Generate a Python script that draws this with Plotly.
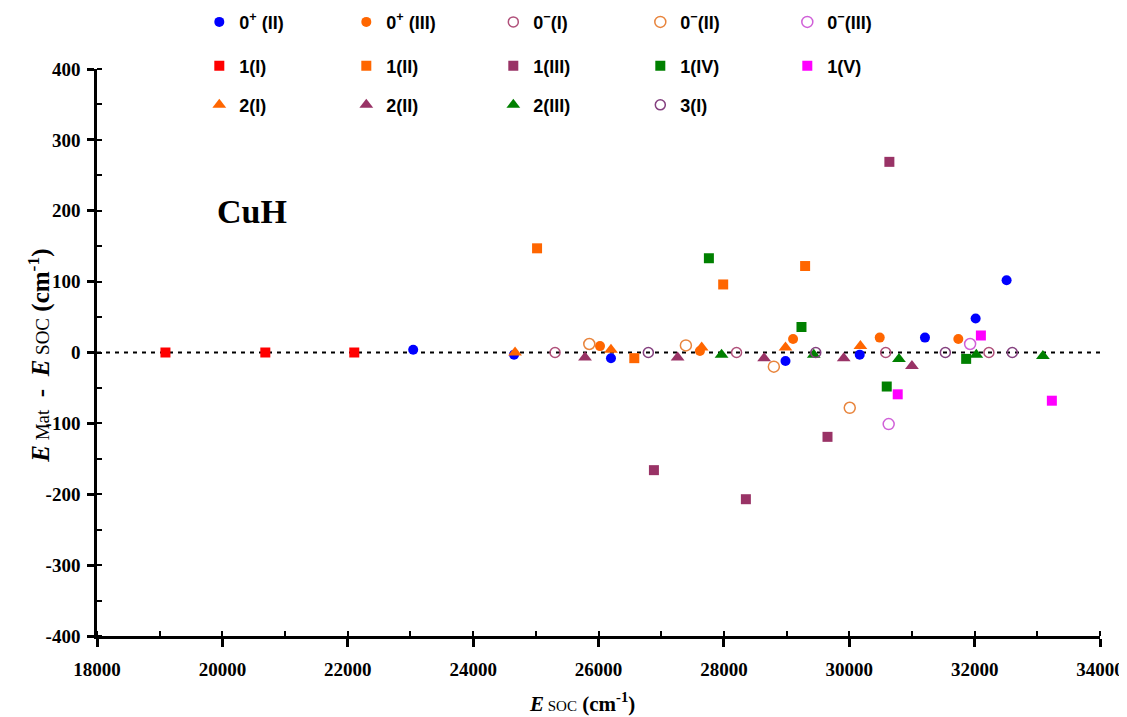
import plotly.graph_objects as go

# ---------------- data ----------------
x_0p_II = [23044, 24653, 26199, 28983, 30167, 31208, 32016, 32510]
y_0p_II = [4, -3, -8, -12, -3, 21, 48, 102]
x_0p_III = [26024, 27618, 29104, 30486, 31740]
y_0p_III = [9, 2, 19, 21, 19]
x_0m_I = [25307, 28202, 30582, 32228]
y_0m_I = [0, 0, 0, 0]
x_0m_II = [25853, 27394, 28797, 30008]
y_0m_II = [12, 10, -20, -78]
x_0m_III = [30629, 31928]
y_0m_III = [-101, 12]
x_1_I = [19092, 20685, 22104]
y_1_I = [0, 0, 0]
x_1_II = [25020, 26571, 27989, 29296]
y_1_II = [147, -8, 96, 122]
x_1_III = [26884, 28351, 29653, 30640]
y_1_III = [-166, -207, -119, 269]
x_1_IV = [27761, 29238, 30598, 31865]
y_1_IV = [133, 36, -48, -9]
x_1_V = [30773, 32100, 33232]
y_1_V = [-59, 24, -68]
x_2_I = [24669, 26199, 27646, 28983, 30178]
y_2_I = [0, 4, 7, 7, 9]
x_2_II = [25785, 27262, 28642, 29912, 31000]
y_2_II = [-7, -7, -8, -8, -19]
x_2_III = [27963, 29434, 30793, 32027, 33089]
y_2_III = [-3, -3, -9, -3, -5]
x_3_I = [26795, 29466, 31533, 32601]
y_3_I = [0, 0, 0, 0]

x_tickvals = [18000, 20000, 22000, 24000, 26000, 28000, 30000, 32000, 34000]
x_ticktext = ["18000", "20000", "22000", "24000", "26000", "28000", "30000", "32000", "34000"]
y_tickvals = [400, 300, 200, 100, 0, -100, -200, -300, -400]
y_ticktext = ["400", "300", "200", "100", "0", "-100", "-200", "-300", "-400"]

# ---------------- styles ----------------
BLUE = "#0000FF"
ORANGE = "#FF6600"
PLUM = "#993366"
GREEN = "#008000"
MAGENTA = "#FF00FF"
RED = "#FF0000"

series = [
    # name, x, y, symbol, size, color, open?, legend
    ("0<sup>+</sup> (II)", x_0p_II, y_0p_II, "circle", 10, BLUE, False, "legend"),
    ("0<sup>+</sup> (III)", x_0p_III, y_0p_III, "circle", 10, ORANGE, False, "legend"),
    ("0<sup>\u2212</sup>(I)", x_0m_I, y_0m_I, "circle-open", 10, "#B0507A", True, "legend"),
    ("0<sup>\u2212</sup>(II)", x_0m_II, y_0m_II, "circle-open", 11, "#E8843C", True, "legend"),
    ("0<sup>\u2212</sup>(III)", x_0m_III, y_0m_III, "circle-open", 11, "#D060D8", True, "legend"),
    ("1(I)", x_1_I, y_1_I, "square", 10, RED, False, "legend2"),
    ("1(II)", x_1_II, y_1_II, "square", 10, ORANGE, False, "legend2"),
    ("1(III)", x_1_III, y_1_III, "square", 10, PLUM, False, "legend2"),
    ("1(IV)", x_1_IV, y_1_IV, "square", 10, GREEN, False, "legend2"),
    ("1(V)", x_1_V, y_1_V, "square", 10, MAGENTA, False, "legend2"),
    ("2(I)", x_2_I, y_2_I, "triangle-up", 12, ORANGE, False, "legend3"),
    ("2(II)", x_2_II, y_2_II, "triangle-up", 12, PLUM, False, "legend3"),
    ("2(III)", x_2_III, y_2_III, "triangle-up", 12, GREEN, False, "legend3"),
    ("3(I)", x_3_I, y_3_I, "circle-open", 10, "#84407F", True, "legend3"),
]

fig = go.Figure()
for name, xs, ys, sym, size, col, is_open, lg in series:
    marker = dict(symbol=sym, size=size, color=col)
    if is_open:
        marker["line"] = dict(color=col, width=1.5)
    else:
        marker["line"] = dict(width=0)
    fig.add_trace(go.Scatter(x=xs, y=ys, mode="markers", name=name,
                             marker=marker, legend=lg, cliponaxis=False))

# zero reference line
fig.add_shape(type="line", xref="paper", yref="y", x0=0, x1=1, y0=0, y1=0,
              line=dict(color="black", width=2, dash="4px,5px"), layer="below")

SERIF = "Liberation Serif, Times New Roman, serif"
tick_font = dict(family=SERIF, size=19, color="black", weight="bold")

leg_common = dict(orientation="h",
                  font=dict(family="Liberation Sans, Arial, sans-serif", size=18, color="black", weight="bold"),
                  bgcolor="rgba(0,0,0,0)", entrywidth=102, entrywidthmode="pixels",
                  xref="paper", yref="container",
                  xanchor="left", yanchor="middle", x=0.102, itemclick=False)

fig.update_layout(
    width=1119, height=709,
    paper_bgcolor="white", plot_bgcolor="white",
    margin=dict(l=89, r=26.5, t=61, b=81, autoexpand=False),
    showlegend=True,
    legend=dict(leg_common, y=0.980),
    legend2=dict(leg_common, y=0.918),
    legend3=dict(leg_common, y=0.863),
    xaxis=dict(range=[18000, 34000], tickvals=x_tickvals, ticktext=x_ticktext, automargin=False,
               showgrid=False, zeroline=False, showline=True, linecolor="black", linewidth=2.5,
               ticks="outside", ticklen=8, tickwidth=2.5, tickcolor="black",
               minor=dict(dtick=1000, ticks="inside", ticklen=5, tickwidth=2, tickcolor="black"),
               tickfont=tick_font, ticklabelstandoff=6, ticklabeloverflow="allow"),
    yaxis=dict(range=[-400, 400], tickvals=y_tickvals, ticktext=y_ticktext, automargin=False,
               showgrid=False, zeroline=False, showline=True, linecolor="black", linewidth=2.5,
               ticks="outside", ticklen=7, tickwidth=2.5, tickcolor="black",
               minor=dict(dtick=50, ticks="inside", ticklen=5, tickwidth=2, tickcolor="black"),
               tickfont=tick_font, ticklabelstandoff=3, ticklabeloverflow="allow"),
    xaxis2=dict(range=[18000, 34000], overlaying="x", anchor="y", tickvals=x_tickvals,
                showticklabels=False, showgrid=False, zeroline=False, showline=False,
                ticks="inside", ticklen=7, tickwidth=2.5, tickcolor="black"),
    yaxis2=dict(range=[-400, 400], overlaying="y", anchor="x", tickvals=y_tickvals,
                showticklabels=False, showgrid=False, zeroline=False, showline=False,
                ticks="inside", ticklen=7, tickwidth=2.5, tickcolor="black"),
    annotations=[
        dict(text="<b>CuH</b>", x=0.155, y=0.748, xref="paper", yref="paper",
             xanchor="center", yanchor="middle", showarrow=False,
             font=dict(family=SERIF, size=34, color="black")),
        dict(text="<b><i>E</i></b><span style='font-size:15px'> SOC</span><b> (cm<sup>-1</sup>)</b>",
             x=0.484, y=-0.118, xref="paper", yref="paper", xanchor="center", yanchor="middle",
             showarrow=False, font=dict(family=SERIF, size=21, color="black")),
        dict(text="<b><i>E</i></b><span style='font-size:19px'> Mat</span><b>  -  <i>E</i></b>"
                  "<span style='font-size:19px'> SOC</span><b> (cm<sup>-1</sup>)</b>",
             x=-0.057, y=0.494, xref="paper", yref="paper", xanchor="center", yanchor="middle",
             textangle=-90, showarrow=False, font=dict(family=SERIF, size=25, color="black")),
    ],
)

fig.write_html("out.html")
